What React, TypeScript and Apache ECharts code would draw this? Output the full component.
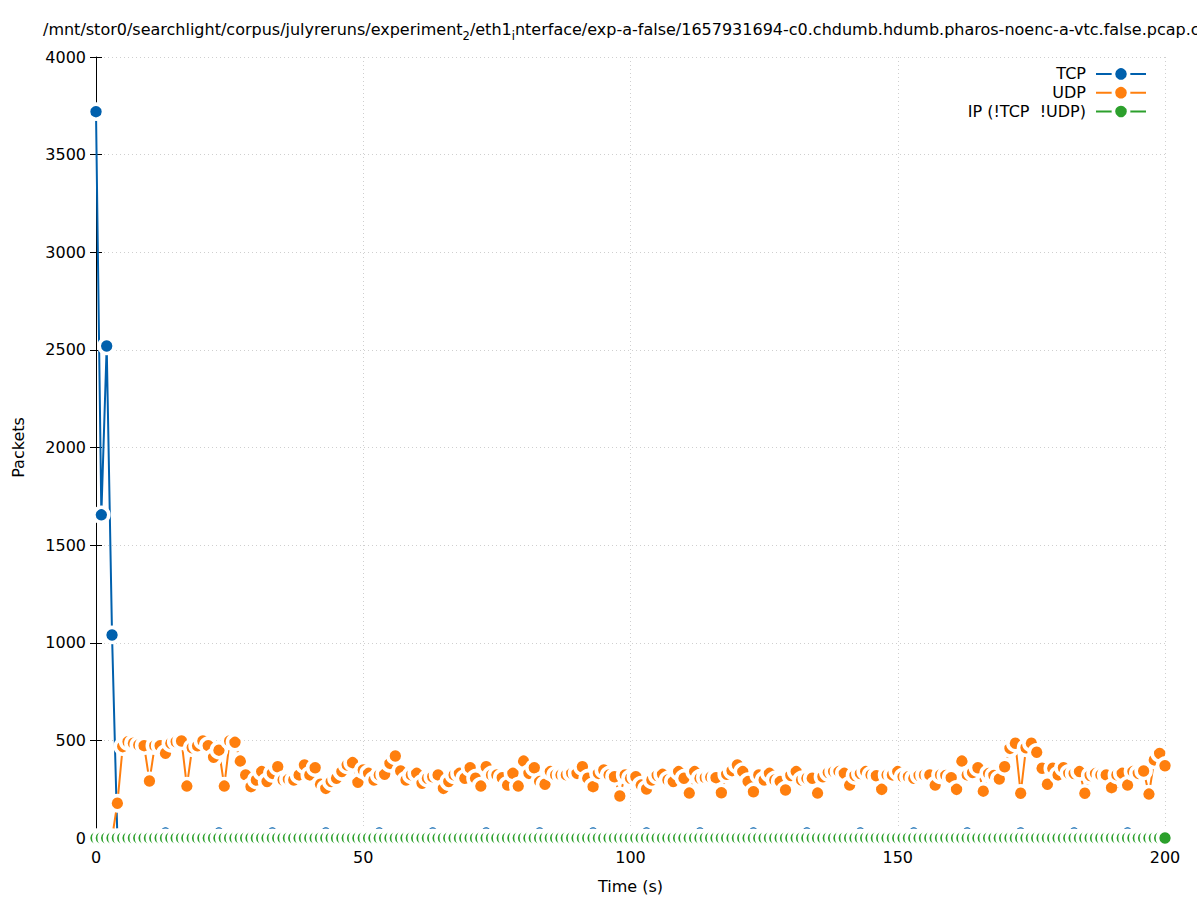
import React, { useEffect, useRef } from "react";
import * as echarts from "echarts";

// ---- data ----
const TITLE_TEXT =
  "/mnt/stor0/searchlight/corpus/julyreruns/experiment{sub|2}/eth1{sub|i}nterface/exp-a-false/1657931694-c0.chdumb.hdumb.pharos-noenc-a-vtc.false.pcap.c";
const X_NAME = "Time (s)";
const Y_NAME = "Packets";
const SERIES_NAMES = ["TCP", "UDP", "IP (!TCP  !UDP)"];

// sample times (s)
const TIMES: number[] = Array.from({ length: 201 }, (_, i) => i);

// TCP: burst at the start, then small keep-alive bumps every 10 s
const TCP_HEAD = [3720, 1655, 2520, 1040];
const TCP_BUMP_TIMES = [13, 23, 33, 43, 53, 63, 73, 83, 93, 103, 113, 123, 133, 143, 153, 163, 173, 183, 193];
const TCP_BUMP_VALUE = 25;

// UDP packets per second, t = 0 .. 200
const UDP = [
  0, 0, 0, 0, 178, 468, 493, 485, 476, 473,
  292, 473, 473, 434, 485, 493, 497, 266, 462, 472,
  497, 473, 413, 450, 266, 497, 490, 394, 323, 263,
  297, 340, 289, 331, 365, 297, 300, 297, 323, 374,
  323, 360, 275, 254, 289, 306, 340, 374, 386, 285,
  348, 331, 297, 323, 326, 382, 420, 343, 297, 323,
  331, 280, 306, 314, 323, 254, 289, 323, 331, 306,
  360, 306, 266, 365, 323, 323, 309, 271, 331, 266,
  394, 331, 360, 289, 275, 340, 323, 323, 323, 331,
  331, 365, 306, 263, 331, 348, 323, 314, 215, 323,
  306, 314, 271, 251, 297, 320, 326, 297, 289, 340,
  306, 230, 340, 306, 309, 312, 309, 232, 326, 345,
  374, 340, 289, 237, 323, 297, 331, 297, 289, 246,
  320, 340, 297, 306, 306, 230, 314, 335, 340, 340,
  331, 271, 320, 330, 340, 323, 319, 249, 323, 323,
  340, 314, 314, 306, 320, 323, 323, 271, 323, 320,
  309, 249, 394, 323, 335, 360, 240, 330, 320, 302,
  365, 459, 485, 229, 462, 485, 439, 357, 275, 357,
  323, 360, 331, 330, 340, 229, 320, 330, 323, 323,
  258, 323, 331, 271, 340, 331, 343, 225, 400, 433,
  370,
];

// IP (neither TCP nor UDP): zero throughout
const IP_VALUE = 0;

const COLORS = ["#0060ad", "#ff7f0e", "#2ca02c"];
const FONT = "DejaVu Sans";

function buildTcp(): number[][] {
  return TIMES.map((t, i) => {
    let v = 0;
    if (i < TCP_HEAD.length) v = TCP_HEAD[i];
    else if (TCP_BUMP_TIMES.includes(t)) v = TCP_BUMP_VALUE;
    return [t, v];
  });
}

function makeSeries(name: string, color: string, data: number[][]) {
  return {
    name,
    type: "line",
    data,
    xAxisIndex: 0,
    yAxisIndex: 0,
    symbol: "circle",
    symbolSize: 15,
    showAllSymbol: true,
    clip: false,
    lineStyle: { color, width: 2 },
    itemStyle: { color, borderColor: "#ffffff", borderWidth: 3.6 },
    emphasis: { disabled: true },
  };
}

export default function App() {
  const ref = useRef<HTMLDivElement>(null);

  useEffect(() => {
    if (!ref.current) return;
    const chart = echarts.init(ref.current, undefined, { renderer: "svg" });

    const tickStyle = { color: "#000", width: 1 };
    const labelStyle = { color: "#000", fontSize: 16, fontFamily: FONT };
    const gridLine = { show: true, lineStyle: { color: "#cfcfcf", type: [1, 3], width: 1 } };

    chart.setOption({
      animation: false,
      backgroundColor: "#ffffff",
      title: {
        text: TITLE_TEXT,
        left: 43,
        top: 16,
        padding: 0,
        textStyle: {
          color: "#000",
          fontSize: 16,
          fontWeight: "normal",
          fontFamily: FONT,
          lineHeight: 26,
          rich: {
            sub: { fontSize: 11.5, fontFamily: FONT, color: "#000", lineHeight: 12, verticalAlign: "bottom" },
          },
        },
      },
      legend: {
        data: SERIES_NAMES,
        orient: "vertical",
        right: 50,
        top: 64.5,
        align: "right",
        itemWidth: 50,
        itemHeight: 19,
        itemGap: 0,
        padding: 0,
        itemStyle: { borderColor: "#ffffff", borderWidth: 3.6 },
        textStyle: { color: "#000", fontSize: 16, fontFamily: FONT, padding: [0, 5, 0, 0] },
        selectedMode: false,
      },
      grid: { left: 96, right: 32, top: 57, bottom: 62, containLabel: false },
      xAxis: [
        {
          type: "value",
          min: 0,
          max: 200,
          interval: 50,
          position: "bottom",
          name: X_NAME,
          nameLocation: "middle",
          nameGap: 40,
          nameTextStyle: labelStyle,
          axisLine: { show: true, onZero: false, lineStyle: tickStyle },
          axisTick: { show: true, inside: true, length: 6, lineStyle: tickStyle },
          axisLabel: { ...labelStyle, margin: 11 },
          splitLine: gridLine,
        },
        {
          type: "value",
          min: 0,
          max: 200,
          interval: 50,
          position: "top",
          axisLine: { show: false },
          axisTick: { show: true, inside: true, length: 6, lineStyle: tickStyle },
          axisLabel: { show: false },
          splitLine: { show: false },
        },
      ],
      yAxis: [
        {
          type: "value",
          min: 0,
          max: 4000,
          interval: 500,
          position: "left",
          name: Y_NAME,
          nameLocation: "middle",
          nameGap: 70,
          nameRotate: 90,
          nameTextStyle: labelStyle,
          axisLine: { show: true, onZero: false, lineStyle: tickStyle },
          axisTick: { show: true, inside: true, length: 6, lineStyle: tickStyle },
          axisLabel: { ...labelStyle, margin: 10, formatter: (v: number) => String(v) },
          splitLine: gridLine,
        },
        {
          type: "value",
          min: 0,
          max: 4000,
          interval: 500,
          position: "right",
          axisLine: { show: false },
          axisTick: { show: true, inside: true, length: 6, lineStyle: tickStyle },
          axisLabel: { show: false },
          splitLine: { show: false },
        },
      ],
      series: [
        makeSeries(SERIES_NAMES[0], COLORS[0], buildTcp()),
        makeSeries(SERIES_NAMES[1], COLORS[1], TIMES.map((t, i) => [t, UDP[i]])),
        makeSeries(SERIES_NAMES[2], COLORS[2], TIMES.map((t) => [t, IP_VALUE])),
      ],
    });

    return () => chart.dispose();
  }, []);

  return (
    <div
      ref={ref}
      style={{ position: "fixed", left: 0, top: 0, width: 1197, height: 900, background: "#fff" }}
    />
  );
}
